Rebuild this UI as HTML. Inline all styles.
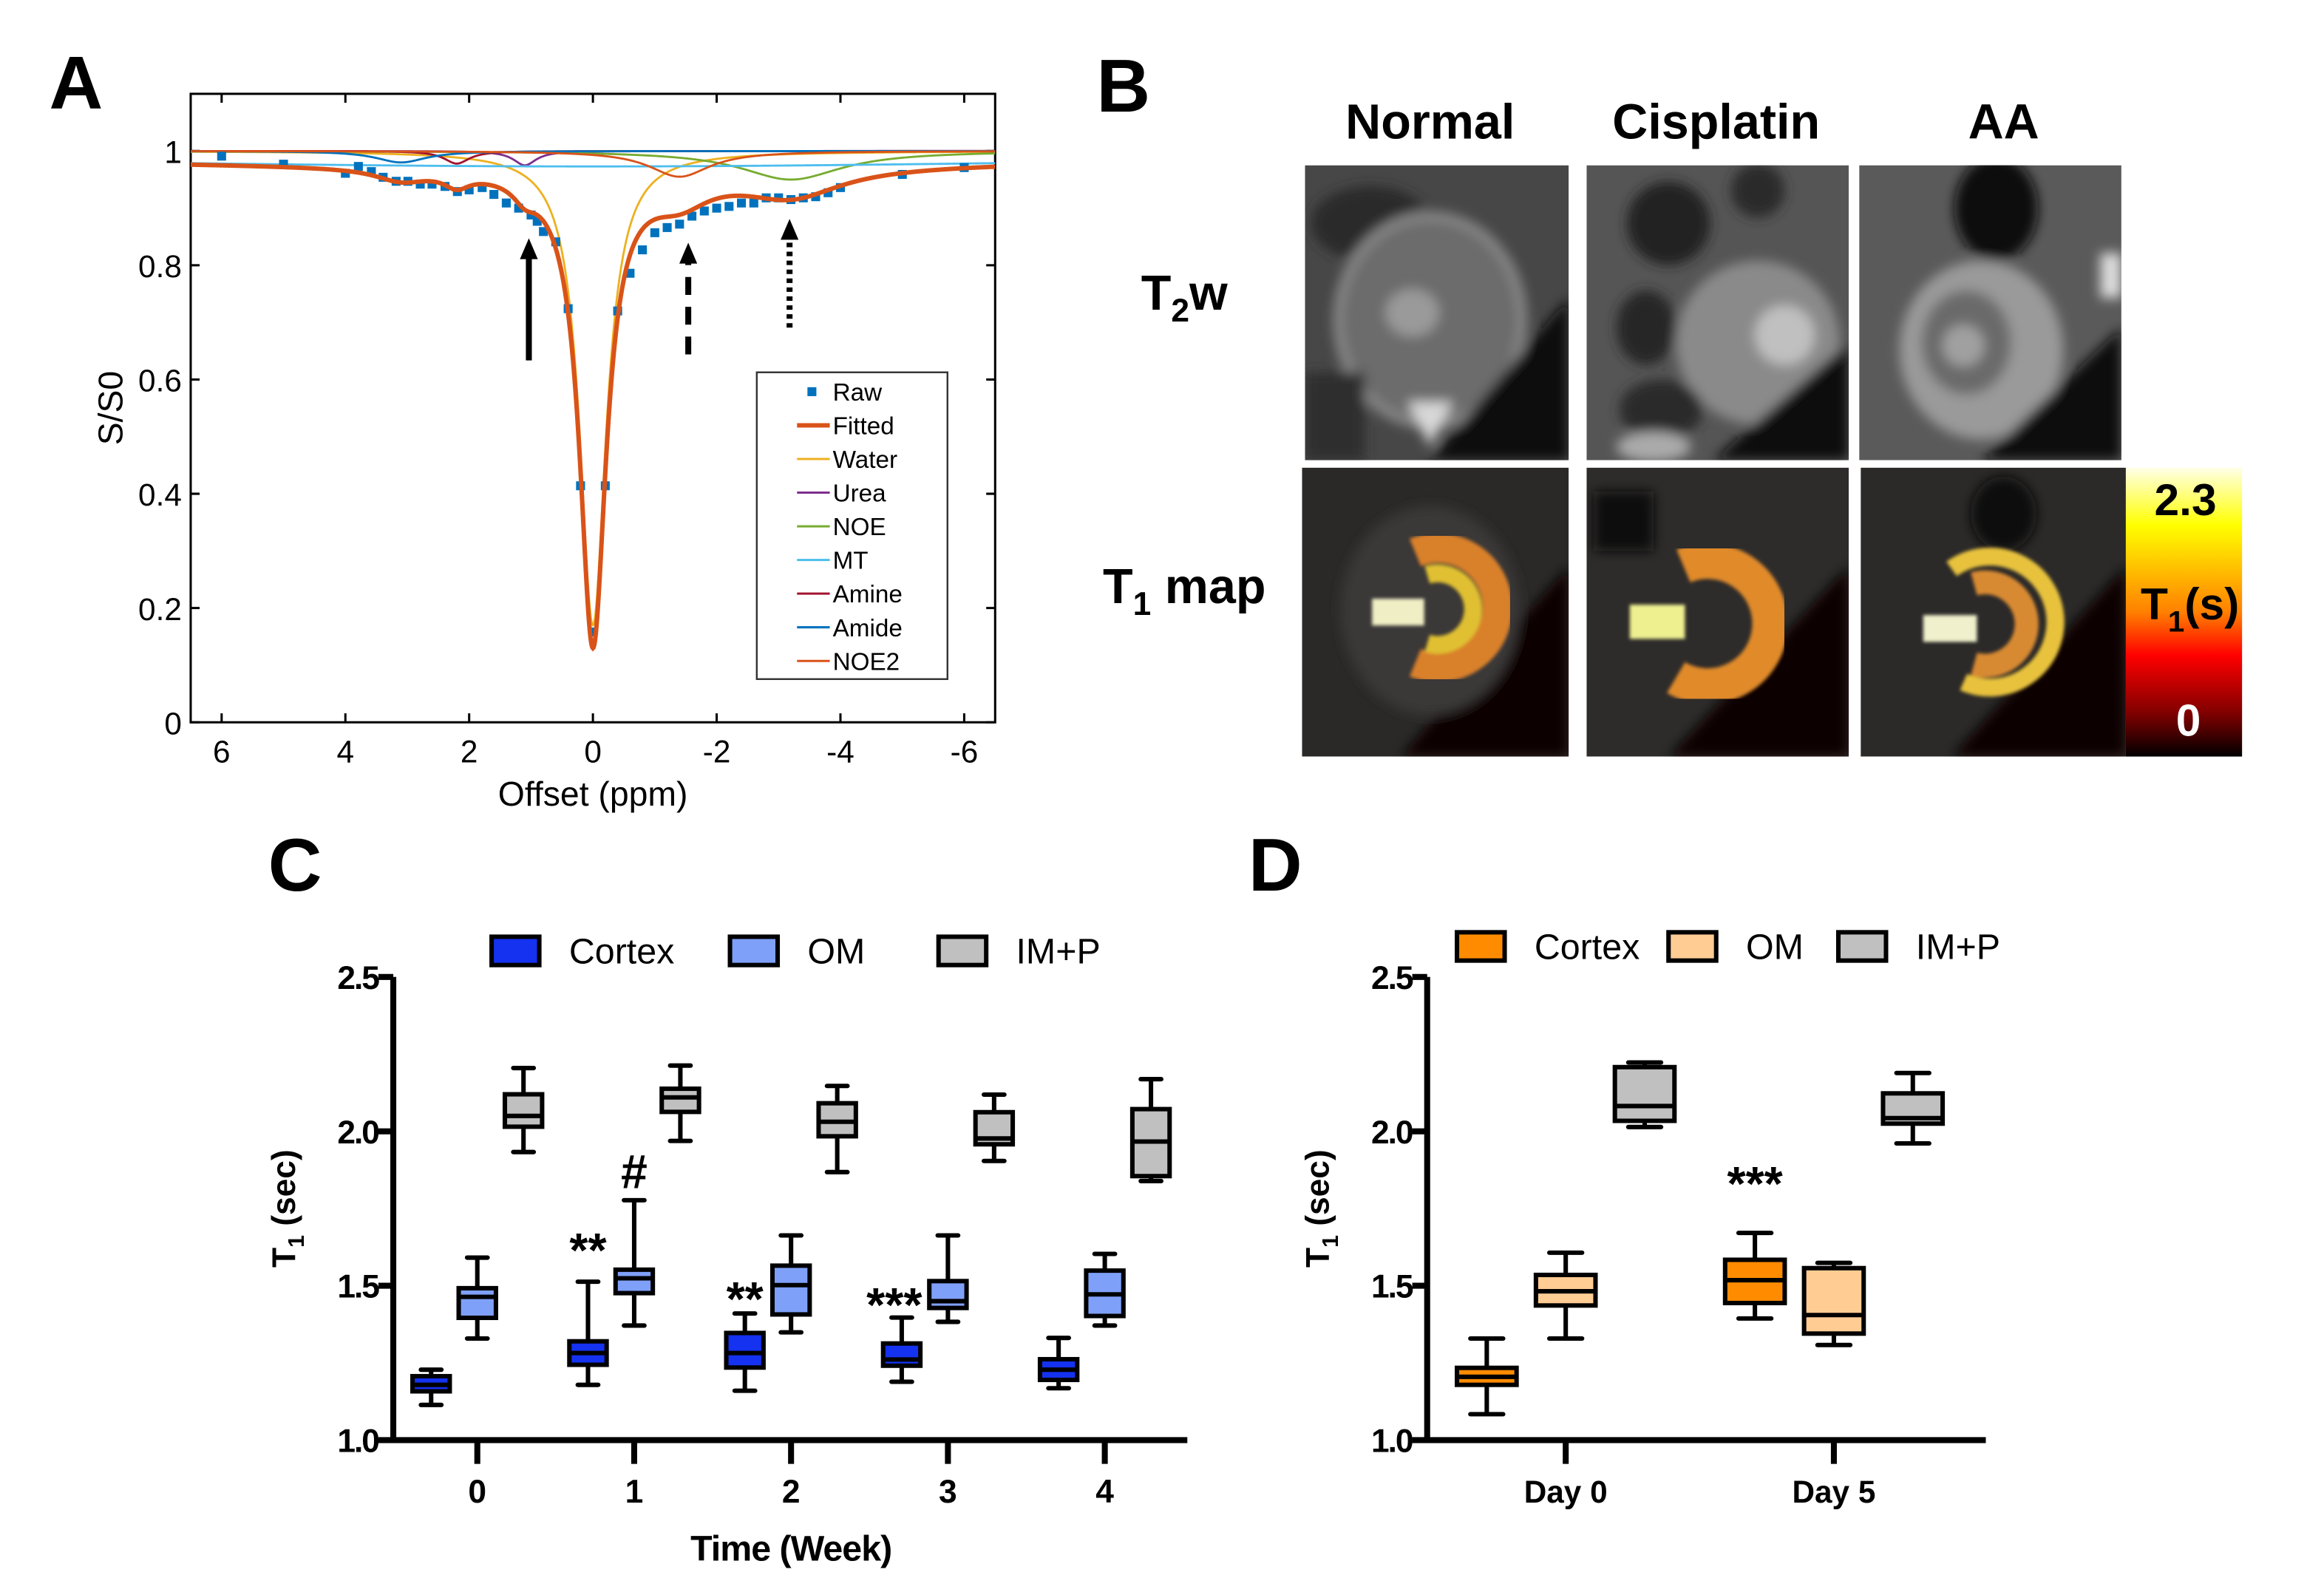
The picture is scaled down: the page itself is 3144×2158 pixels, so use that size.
<!DOCTYPE html>
<html><head><meta charset="utf-8"><style>
html,body{margin:0;padding:0;background:#fff}
svg{display:block}
text{font-family:"Liberation Sans",Arial,sans-serif}
</style></head><body>
<svg id="fig" width="3144" height="2158" viewBox="0 0 1560 1071" preserveAspectRatio="none" xmlns="http://www.w3.org/2000/svg">
<defs>
<clipPath id="clipA"><rect x="128" y="63" width="540" height="422"/></clipPath>
<filter id="blur" x="-10%" y="-10%" width="120%" height="120%"><feGaussianBlur stdDeviation="4"/></filter>
<filter id="blur2"><feGaussianBlur stdDeviation="1.2"/></filter>
<linearGradient id="cbar" x1="0" y1="0" x2="0" y2="1">
<stop offset="0" stop-color="#ffffe8"/><stop offset="0.2" stop-color="#ffff00"/>
<stop offset="0.5" stop-color="#ff8000"/><stop offset="0.65" stop-color="#ff0000"/>
<stop offset="0.85" stop-color="#800000"/><stop offset="1" stop-color="#000"/></linearGradient>
<clipPath id="c11"><rect x="876" y="111" width="177" height="198"/></clipPath>
<clipPath id="c12"><rect x="1065" y="111" width="176" height="198"/></clipPath>
<clipPath id="c13"><rect x="1248" y="111" width="176" height="198"/></clipPath>
<clipPath id="c21"><rect x="874" y="314" width="179" height="194"/></clipPath>
<clipPath id="c22"><rect x="1065" y="314" width="176" height="194"/></clipPath>
<clipPath id="c23"><rect x="1249" y="314" width="178" height="194"/></clipPath>
</defs>

<text x="33" y="73" font-size="50" font-weight="bold">A</text>
<text x="736" y="75" font-size="50" font-weight="bold">B</text>
<text x="180" y="598" font-size="50" font-weight="bold">C</text>
<text x="838" y="598" font-size="50" font-weight="bold">D</text>

<g id="panelA"></g>

<g id="panelB">
<text x="960" y="93" font-size="33" font-weight="bold" text-anchor="middle">Normal</text>
<text x="1152" y="93" font-size="33" font-weight="bold" text-anchor="middle">Cisplatin</text>
<text x="1345" y="93" font-size="33" font-weight="bold" text-anchor="middle">AA</text>
<text x="795" y="208" font-size="33" font-weight="bold" text-anchor="middle">T<tspan font-size="22" dy="8">2</tspan><tspan dy="-8">w</tspan></text>
<text x="795" y="405" font-size="33" font-weight="bold" text-anchor="middle">T<tspan font-size="22" dy="8">1</tspan><tspan dy="-8"> map</tspan></text>

<g clip-path="url(#c11)">
<rect x="876" y="111" width="177" height="198" fill="#474747"/>
<g filter="url(#blur)">
<ellipse cx="920" cy="150" rx="40" ry="25" fill="#2a2a2a"/>
<ellipse cx="960" cy="215" rx="62" ry="70" fill="#6c6c6c" stroke="#8a8a8a" stroke-width="6"/>
<ellipse cx="948" cy="210" rx="18" ry="16" fill="#9a9a9a"/>
<polygon points="1053,200 1053,309 960,309" fill="#0a0a0a"/>
<polygon points="945,270 975,270 960,300" fill="#d8d8d8"/>
<rect x="876" y="250" width="40" height="59" fill="#2e2e2e"/>
</g></g>
<g clip-path="url(#c12)">
<rect x="1065" y="111" width="176" height="198" fill="#555"/>
<g filter="url(#blur)">
<circle cx="1120" cy="150" r="28" fill="#222"/>
<circle cx="1180" cy="128" r="18" fill="#2a2a2a"/>
<circle cx="1180" cy="230" r="55" fill="#8a8a8a"/>
<circle cx="1198" cy="225" r="20" fill="#c0c0c0"/>
<ellipse cx="1105" cy="220" rx="20" ry="25" fill="#262626"/>
<ellipse cx="1115" cy="275" rx="28" ry="20" fill="#2a2a2a"/>
<polygon points="1241,230 1241,309 1150,309" fill="#0a0a0a"/>
<ellipse cx="1110" cy="300" rx="25" ry="10" fill="#aaa"/>
</g></g>
<g clip-path="url(#c13)">
<rect x="1248" y="111" width="176" height="198" fill="#5a5a5a"/>
<g filter="url(#blur)">
<ellipse cx="1340" cy="140" rx="28" ry="35" fill="#111"/>
<ellipse cx="1330" cy="235" rx="55" ry="60" fill="#9a9a9a"/>
<ellipse cx="1320" cy="230" rx="30" ry="35" fill="#6a6a6a"/>
<ellipse cx="1318" cy="232" rx="14" ry="14" fill="#a0a0a0"/>
<polygon points="1424,220 1424,309 1330,309" fill="#0c0c0c"/>
<rect x="1410" y="170" width="14" height="30" fill="#ddd"/>
</g></g>

<g clip-path="url(#c21)">
<rect x="874" y="314" width="179" height="194" fill="#2b2928"/>
<g filter="url(#blur)"><polygon points="1053,380 1053,508 940,508" fill="#080606"/><ellipse cx="960" cy="410" rx="60" ry="70" fill="#3a3837"/></g>
<g filter="url(#blur2)">
<path d="M 950 371 A 40 40 0 1 1 950 445" fill="none" stroke="#d9802c" stroke-width="20"/>
<path d="M 958 386 A 24 24 0 1 1 958 432" fill="none" stroke="#e0c030" stroke-width="12"/>
<rect x="921" y="402" width="35" height="18" fill="#f0eec4"/></g>
</g>
<g clip-path="url(#c22)">
<rect x="1065" y="314" width="176" height="194" fill="#2e2c2b"/>
<g filter="url(#blur)"><polygon points="1241,380 1241,508 1120,508" fill="#080606"/><rect x="1070" y="330" width="40" height="40" fill="#111"/></g>
<g filter="url(#blur2)">
<path d="M 1130 380 A 42 42 0 1 1 1125 455" fill="none" stroke="#e08a2c" stroke-width="24"/>
<rect x="1094" y="406" width="37" height="23" fill="#eef090"/></g>
</g>
<g clip-path="url(#c23)">
<rect x="1249" y="314" width="178" height="194" fill="#2c2a29"/>
<g filter="url(#blur)"><polygon points="1427,380 1427,508 1310,508" fill="#080606"/><ellipse cx="1345" cy="345" rx="22" ry="25" fill="#0e0b0b"/></g>
<g filter="url(#blur2)">
<path d="M 1310 382 A 44 44 0 1 1 1318 458" fill="none" stroke="#e8c23c" stroke-width="12"/>
<path d="M 1325 392 A 28 28 0 1 1 1325 446" fill="none" stroke="#d88a32" stroke-width="16"/>
<rect x="1291" y="413" width="36" height="18" fill="#f0f0cc"/></g>
</g>
<rect x="1427" y="314" width="78" height="194" fill="url(#cbar)"/>
<text x="1467" y="346" font-size="30" font-weight="bold" text-anchor="middle">2.3</text>
<text x="1470" y="416" font-size="30" font-weight="bold" text-anchor="middle">T<tspan font-size="20" dy="8">1</tspan><tspan dy="-8">(s)</tspan></text>
<text x="1469" y="494" font-size="30" font-weight="bold" text-anchor="middle" fill="#fff">0</text>
</g>

<g id="panelC"></g>
<g id="panelD"></g>
</svg>

<script>
// ===== Panel A data =====
const rawPpm = [6.0,5.0,4.0,3.79,3.58,3.39,3.18,2.99,2.79,2.6,2.39,2.19,2.0,1.79,1.6,1.4,1.2,1.0,0.9,0.8,0.6,0.4,0.2,0.0,-0.2,-0.4,-0.6,-0.8,-1.0,-1.2,-1.4,-1.6,-1.8,-2.0,-2.2,-2.4,-2.6,-2.8,-3.0,-3.2,-3.4,-3.6,-3.8,-4.0,-5.0,-6.0];
const rawVal = [0.991,0.977,0.961,0.973,0.964,0.954,0.947,0.947,0.942,0.942,0.938,0.929,0.932,0.936,0.924,0.909,0.900,0.888,0.877,0.859,0.841,0.724,0.414,0.158,0.414,0.720,0.786,0.827,0.857,0.866,0.872,0.886,0.895,0.900,0.903,0.909,0.909,0.918,0.918,0.915,0.918,0.920,0.927,0.936,0.959,0.971];
const compNames = ["Water","Urea","NOE","MT","Amine","Amide","NOE2"];
const compCenter = [0,1.1,-3.2,0,2.2,3.1,-1.4];
const compAmp = [0.83,0.025,0.05,0.027,0.022,0.02,0.045];
const compWidth = [0.52,0.45,2.0,25,0.5,1.0,1.2];
const compColor = ["#EDB120","#7E2F8E","#77AC30","#4DBEEE","#A2142F","#0072BD","#D95319"];
const axAxTicks = [6,4,2,0,-2,-4,-6];
const axAyTicks = [0,0.2,0.4,0.6,0.8,1];
const axAyTickLabels = ["0","0.2","0.4","0.6","0.8","1"];

// ===== Panel C data =====
const cWeeks = ["0","1","2","3","4"];
const cGroups = ["Cortex","OM","IM+P"];
const cCortexMin = [1.114,1.179,1.160,1.189,1.168];
const cCortexQ1  = [1.158,1.244,1.235,1.241,1.195];
const cCortexMed = [1.179,1.282,1.282,1.261,1.228];
const cCortexQ3  = [1.207,1.320,1.347,1.313,1.262];
const cCortexMax = [1.228,1.513,1.410,1.397,1.331];
const cOMMin = [1.329,1.371,1.349,1.383,1.371];
const cOMQ1  = [1.396,1.476,1.407,1.428,1.402];
const cOMMed = [1.464,1.524,1.502,1.450,1.472];
const cOMQ3  = [1.492,1.552,1.565,1.515,1.549];
const cOMMax = [1.591,1.777,1.663,1.663,1.603];
const cIMMin = [1.933,1.969,1.868,1.904,1.839];
const cIMQ1  = [2.015,2.063,1.984,1.958,1.855];
const cIMMed = [2.050,2.110,2.031,1.977,1.967];
const cIMQ3  = [2.120,2.138,2.091,2.062,2.072];
const cIMMax = [2.205,2.213,2.147,2.119,2.169];
const cYTicks = [1.0,1.5,2.0,2.5];
const cYTickLabels = ["1.0","1.5","2.0","2.5"];

// ===== Panel D data =====
const dDays = ["Day 0","Day 5"];
const dCortexMin = [1.084,1.394];
const dCortexQ1  = [1.179,1.444];
const dCortexMed = [1.205,1.518];
const dCortexQ3  = [1.234,1.584];
const dCortexMax = [1.329,1.671];
const dOMMin = [1.329,1.308];
const dOMQ1  = [1.436,1.345];
const dOMMed = [1.482,1.405];
const dOMQ3  = [1.535,1.557];
const dOMMax = [1.607,1.574];
const dIMMin = [2.014,1.961];
const dIMQ1  = [2.034,2.025];
const dIMMed = [2.082,2.043];
const dIMQ3  = [2.208,2.123];
const dIMMax = [2.223,2.189];

const NS = "http://www.w3.org/2000/svg";
function mk(tag, attrs, parent){ const e=document.createElementNS(NS,tag); for(const k in attrs) e.setAttribute(k,attrs[k]); if(parent) parent.appendChild(e); return e; }

(function(){
  const g = document.getElementById('panelA');
  const X0=128,X1=668,Y0=63,Y1=485;
  const xs = p => 398 - p*(540/13);
  const ys = v => 485 - v*383.6;
  const dip = (i,p) => compAmp[i]/(1+Math.pow((p-compCenter[i])/(compWidth[i]/2),2));
  const frame = mk('rect',{x:X0,y:Y0,width:X1-X0,height:Y1-Y0,fill:'none',stroke:'#000','stroke-width':1.5},g);
  
  
  axAxTicks.forEach(t=>{
    const x=xs(t);
    const tk=mk('path',{d:`M${x},${Y1}V${Y1-6}M${x},${Y0}V${Y0+6}`,stroke:'#000','stroke-width':1.5},g);
    
    
    const tl=mk('text',{x:x,y:Y1+27,'font-size':21,'text-anchor':'middle'},g); tl.textContent=String(t);
    
    
  });
  axAyTicks.forEach((t,i)=>{
    const y=ys(t);
    const tk=mk('path',{d:`M${X0},${y}H${X0+6}M${X1},${y}H${X1-6}`,stroke:'#000','stroke-width':1.5},g);
    
    
    const tl=mk('text',{x:X0-6,y:y+8,'font-size':21,'text-anchor':'end'},g); tl.textContent=axAyTickLabels[i];
    
    
  });
  const yt=mk('text',{x:0,y:0,'font-size':23,'text-anchor':'middle',transform:'translate(82,274) rotate(-90)'},g); yt.textContent='S/S0';
  
  
  const xt=mk('text',{x:398,y:541,'font-size':23,'text-anchor':'middle'},g); xt.textContent='Offset (ppm)';
  
  
  const cg=mk('g',{'clip-path':'url(#clipA)'},g);
  const N=1300;
  compNames.forEach((nm,i)=>{
    let d='';
    for(let k=0;k<=N;k++){ const p=6.5-13*k/N; d+=(k?'L':'M')+xs(p).toFixed(2)+','+ys(1-dip(i,p)).toFixed(2); }
    const pth=mk('path',{d:d,fill:'none',stroke:compColor[i],'stroke-width':1.4},cg);
    
    
  });
  rawPpm.forEach((p,i)=>{
    const r=mk('rect',{x:xs(p)-3,y:ys(rawVal[i])-3,width:6,height:6,fill:'#0072BD'},cg);
    
    
  });
  let d='';
  for(let k=0;k<=N;k++){ const p=6.5-13*k/N; let s=1; compNames.forEach((n,i)=>{s-=dip(i,p);}); d+=(k?'L':'M')+xs(p).toFixed(2)+','+ys(s).toFixed(2); }
  const fit=mk('path',{d:d,fill:'none',stroke:'#D95319','stroke-width':3},cg);
  
  
  const arrows=[[355,242,160,'none'],[462,238,163,'12,8'],[530,220,147,'3,3']];
  arrows.forEach((a,i)=>{
    const ag=mk('g',{},g);
    
    
    mk('line',{x1:a[0],y1:a[1],x2:a[0],y2:a[2]+10,stroke:'#000','stroke-width':4,'stroke-dasharray':a[3]},ag);
    mk('polygon',{points:`${a[0]-6},${a[2]+14} ${a[0]+6},${a[2]+14} ${a[0]},${a[2]}`,fill:'#000'},ag);
  });
  const lg=mk('g',{},g);
  
  
  mk('rect',{x:508,y:250,width:128,height:206,fill:'#fff',stroke:'#333','stroke-width':1.2},lg);
  const names=['Raw','Fitted'].concat(compNames);
  const cols=['#0072BD','#D95319'].concat(compColor);
  names.forEach((n,i)=>{
    const y=263+i*22.6;
    const eg=mk('g',{},lg);
    
    
    if(i===0) mk('rect',{x:542,y:y-3,width:6,height:6,fill:cols[i]},eg);
    else mk('line',{x1:535,x2:557,y1:y,y2:y,stroke:cols[i],'stroke-width':i===1?3:1.5},eg);
    const t=mk('text',{x:559,y:y+6,'font-size':16.5},eg); t.textContent=n;
  });
})();

function drawAxes(g, X0, X1, ys, prefix){
  const ax=mk('path',{d:`M${X0},${ys(2.5)}V${ys(1.0)}H${X1}`,fill:'none',stroke:'#000','stroke-width':4},g);
  
  
  cYTicks.forEach((t,i)=>{
    const y=ys(t);
    const tk=mk('line',{x1:X0-10,x2:X0,y1:y,y2:y,stroke:'#000','stroke-width':4},g);
    
    
    const tl=mk('text',{x:X0-10,y:y+8,'font-size':22,'font-weight':'bold','text-anchor':'end','letter-spacing':'-1'},g);
    tl.textContent=cYTickLabels[i];
    
    
  });
  const yt=mk('text',{x:0,y:0,'font-size':22,'font-weight':'bold','text-anchor':'middle',transform:`translate(${X0-66},${ys(1.75)}) rotate(-90)`},g);
  yt.innerHTML='T<tspan font-size="15" dy="6">1</tspan><tspan dy="-6"> (sec)</tspan>';
  
  
}
function drawBox(g, cx, w, mn, q1, md, q3, mx, ys, fill, name){
  const bg=mk('g',{},g);
  
  
  const cap=w*0.55;
  mk('path',{d:`M${cx},${ys(mx)}V${ys(q3)}M${cx},${ys(q1)}V${ys(mn)}M${cx-cap/2},${ys(mx)}H${cx+cap/2}M${cx-cap/2},${ys(mn)}H${cx+cap/2}`,stroke:'#000','stroke-width':3,fill:'none','stroke-linecap':'round'},bg);
  mk('rect',{x:cx-w/2,y:ys(q3),width:w,height:ys(q1)-ys(q3),fill:fill,stroke:'#000','stroke-width':3},bg);
  mk('line',{x1:cx-w/2,x2:cx+w/2,y1:ys(md),y2:ys(md),stroke:'#000','stroke-width':3},bg);
}
function legend(g, items, y){
  items.forEach(it=>{
    const eg=mk('g',{},g);
    
    
    mk('rect',{x:it[1],y:y-9,width:32,height:19,fill:it[2],stroke:'#000','stroke-width':3},eg);
    const t=mk('text',{x:it[3],y:y+9,'font-size':24},eg); t.textContent=it[0];
  });
}
function star(g,x,y,txt,name){
  const t=mk('text',{x:x,y:y,'font-size':32,'font-weight':'bold','text-anchor':'middle'},g); t.textContent=txt;
  
  
}

(function(){
  const g=document.getElementById('panelC');
  const ys=v=>967-(v-1.0)*(311/1.5);
  const xw=i=>320.4+i*105.3;
  drawAxes(g,264,797,ys,'panel-c');
  cWeeks.forEach((w,i)=>{
    const x=xw(i);
    const tk=mk('line',{x1:x,x2:x,y1:967,y2:983,stroke:'#000','stroke-width':4},g);
    
    
    const tl=mk('text',{x:x,y:1009,'font-size':22,'font-weight':'bold','text-anchor':'middle'},g); tl.textContent=w;
    
    
    drawBox(g,x-31,25,cCortexMin[i],cCortexQ1[i],cCortexMed[i],cCortexQ3[i],cCortexMax[i],ys,'#1432f0','box-cortex-week'+w);
    drawBox(g,x,25,cOMMin[i],cOMQ1[i],cOMMed[i],cOMQ3[i],cOMMax[i],ys,'#7fa0f8','box-om-week'+w);
    drawBox(g,x+31,25,cIMMin[i],cIMQ1[i],cIMMed[i],cIMQ3[i],cIMMax[i],ys,'#c0c0c0','box-imp-week'+w);
  });
  const xt=mk('text',{x:531,y:1048,'font-size':24,'font-weight':'bold','text-anchor':'middle','letter-spacing':'-0.5'},g); xt.textContent='Time (Week)';
  
  
  legend(g,[["Cortex",330,"#1432f0",382],["OM",490,"#7fa0f8",542],["IM+P",630,"#c0c0c0",682]],638);
  star(g,xw(1)-31,ys(cCortexMax[1])-10,'**','significance-week1-cortex');
  star(g,xw(1),ys(cOMMax[1])-8,'#','significance-week1-om');
  star(g,xw(2)-31,ys(1.5)+20,'**','significance-week2-cortex');
  star(g,xw(3)-36,ys(1.5)+24,'***','significance-week3-cortex');
})();

(function(){
  const g=document.getElementById('panelD');
  const ys=v=>967-(v-1.0)*(311/1.5);
  const xd=i=>1051+i*180;
  drawAxes(g,958,1333,ys,'panel-d');
  dDays.forEach((d,i)=>{
    const x=xd(i);
    const tk=mk('line',{x1:x,x2:x,y1:967,y2:983,stroke:'#000','stroke-width':4},g);
    
    
    const tl=mk('text',{x:x,y:1009,'font-size':21,'font-weight':'bold','text-anchor':'middle'},g); tl.textContent=d;
    
    
    drawBox(g,x-53,40,dCortexMin[i],dCortexQ1[i],dCortexMed[i],dCortexQ3[i],dCortexMax[i],ys,'#ff8c00','box-cortex-'+d.replace(' ','').toLowerCase());
    drawBox(g,x+0,40,dOMMin[i],dOMQ1[i],dOMMed[i],dOMQ3[i],dOMMax[i],ys,'#ffcc94','box-om-'+d.replace(' ','').toLowerCase());
    drawBox(g,x+53,40,dIMMin[i],dIMQ1[i],dIMMed[i],dIMQ3[i],dIMMax[i],ys,'#c0c0c0','box-imp-'+d.replace(' ','').toLowerCase());
  });
  legend(g,[["Cortex",978,"#ff8c00",1030],["OM",1120,"#ffcc94",1172],["IM+P",1234,"#c0c0c0",1286]],635);
  star(g,xd(1)-53,ys(dCortexMax[1])-22,'***','significance-day5-cortex');
})();
</script>
</body></html>
